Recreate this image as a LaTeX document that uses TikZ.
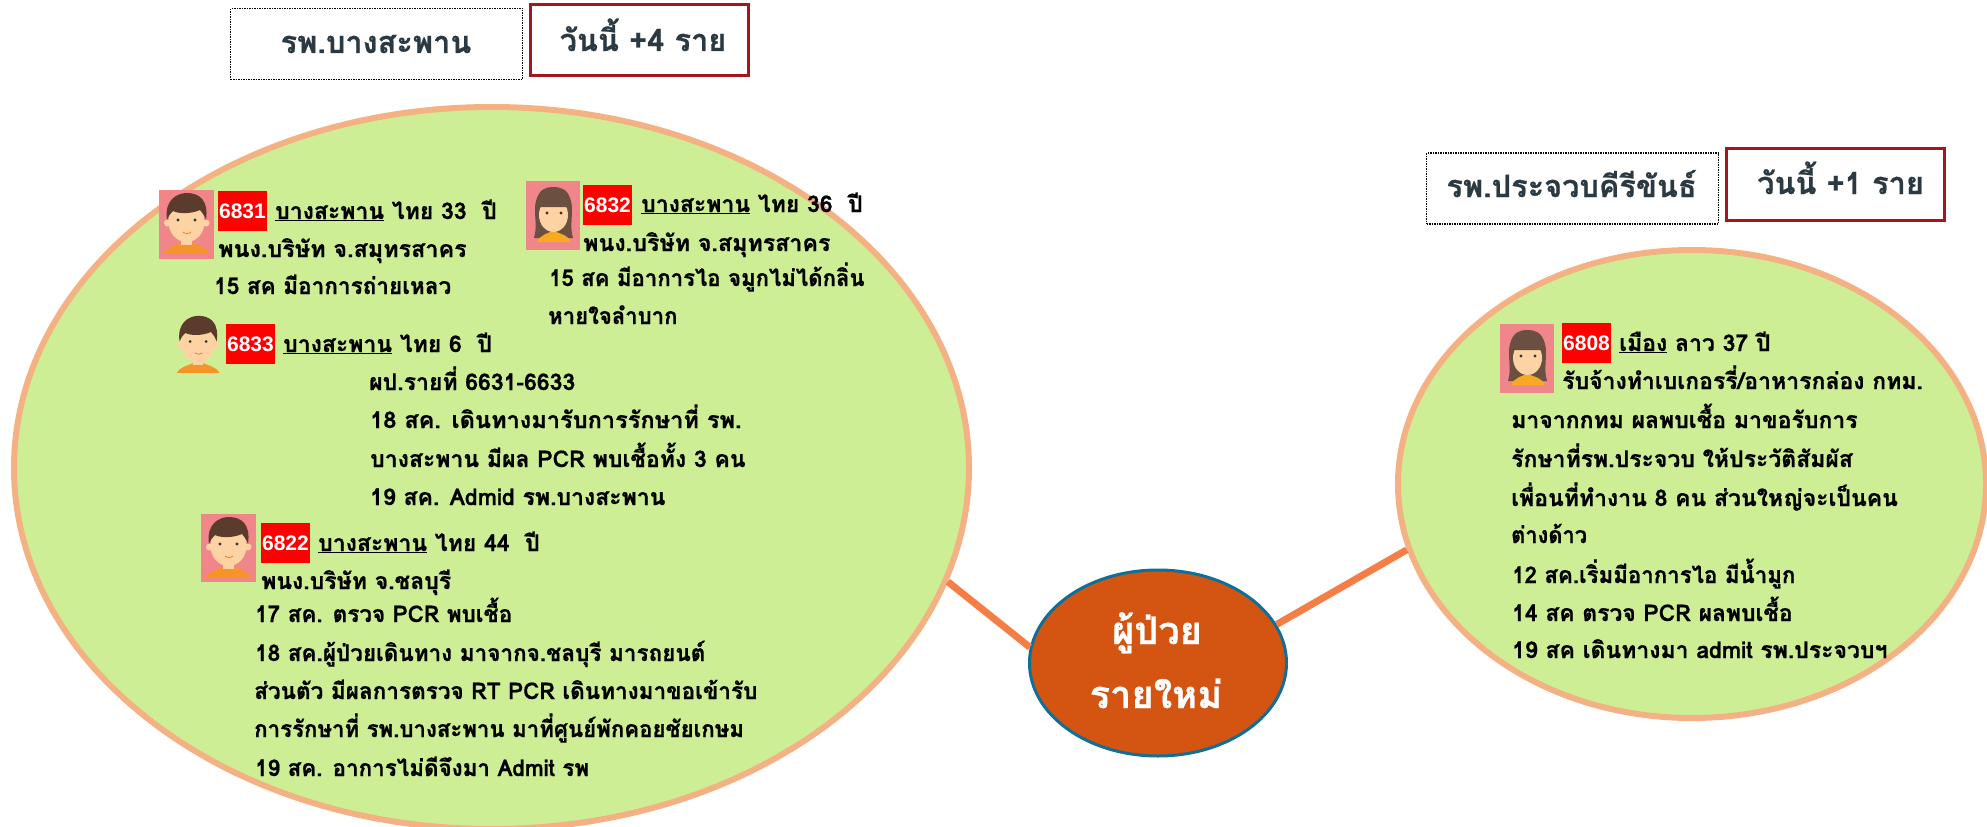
\documentclass[tikz,border=0pt]{standalone}
\usepackage{fontspec}
\usetikzlibrary{shapes.geometric}
\newfontfamily\thaifont[Script=Thai,BoldFeatures={FakeBold=0.7}]{Loma}
\setsansfont{Liberation Sans}
\definecolor{leafGreen}{HTML}{CEEE96}
\definecolor{peachLine}{HTML}{F4B183}
\definecolor{linkOrange}{HTML}{F47E45}
\definecolor{hubOrange}{HTML}{D35511}
\definecolor{hubBlue}{HTML}{0F6F97}
\definecolor{slateText}{HTML}{2B3A42}
\definecolor{boxRed}{HTML}{A5151C}
\definecolor{faceBack}{HTML}{F0868A}
\definecolor{hairBrown}{HTML}{5A3B2C}
\definecolor{skinTone}{HTML}{FDD3A4}
\definecolor{shirtOrange}{HTML}{F6942A}

\begin{document}
\begin{tikzpicture}
[x=1pt,y=-1pt,%
  leafDecorate/.style={shape=ellipse,inner sep=0pt,draw=peachLine,fill=leafGreen,line width=6pt},%
  hubDecorate/.style={shape=ellipse,inner sep=0pt,draw=hubBlue,fill=hubOrange,line width=3pt,minimum width=257pt,minimum height=186pt},%
  hubText/.style={anchor=base,inner sep=0pt,text=white,font=\thaifont\bfseries\fontsize{38}{38}\selectfont},%
  lineDecorate/.style={-,line width=7pt,linkOrange},%
  lineText/.style={anchor=base west,inner sep=0pt,text=black,font=\thaifont\bfseries\fontsize{23}{23}\selectfont},%
  squeezeText/.style={xscale=#1,transform shape},%
  badgeDecorate/.style={shape=rectangle,inner sep=0pt,fill=red,text=white,minimum width=49pt,minimum height=40pt,font=\sffamily\bfseries\fontsize{21}{21}\selectfont},%
  siteBox/.style={shape=rectangle,inner sep=0pt,draw=black,densely dotted,line width=1.5pt,minimum width=292pt,minimum height=71pt},%
  countBox/.style={shape=rectangle,inner sep=0pt,draw=boxRed,line width=3pt,minimum width=218pt,minimum height=71pt},%
  boxText/.style={anchor=base,inner sep=0pt,text=slateText,font=\thaifont\bfseries\fontsize{30.7}{30.7}\selectfont},%
  faceBackDecorate/.style={fill=faceBack},%
  boyFace/.pic={
    \fill[shirtOrange] (5,63) .. controls (8,57) and (17,55) .. (22,53) -- (33,53) .. controls (38,55) and (47,57) .. (50,63) -- cycle;
    \fill[skinTone] (22,44) rectangle (33,55);
    \fill[skinTone] (8.5,33) circle (3.5);
    \fill[skinTone] (47,33) circle (3.5);
    \fill[skinTone] (27.5,32) ellipse (18 and 20);
    \fill[hairBrown] (8,30) .. controls (5,10) and (18,3) .. (28,3) .. controls (40,3) and (50,10) .. (47,30) .. controls (46,26) and (44,24) .. (41,20) .. controls (32,24) and (20,24) .. (14,21) .. controls (11,23) and (10,26) .. (8,30) -- cycle;
    \fill[black!80] (19,30) circle (1.6);
    \fill[black!80] (36,30) circle (1.6);
    \draw[orange!80!brown,line width=0.8pt] (24,42) .. controls (26,44) and (30,44) .. (32,42);
  },%
  girlFace/.pic={
    \fill[hairBrown!90!white] (8,57) .. controls (12,45) and (7,30) .. (10,20) .. controls (13,8) and (20,6) .. (27,6) .. controls (35,6) and (42,8) .. (45,20) .. controls (48,30) and (43,45) .. (47,57) -- cycle;
    \fill[shirtOrange!80!yellow] (11,61) .. controls (14,54) and (22,52) .. (27,50) .. controls (33,52) and (42,54) .. (45,61) -- cycle;
    \fill[skinTone] (27.5,34) ellipse (14.5 and 17);
    \fill[hairBrown!90!white] (13,26) .. controls (14,14) and (22,12) .. (27,12) .. controls (35,12) and (41,14) .. (42,26) -- cycle;
    \fill[orange!35] (18,40) circle (3.5);
    \fill[orange!35] (37,40) circle (3.5);
    \fill[black!80] (21,32) circle (1.6);
    \fill[black!80] (35,32) circle (1.6);
  }]
\useasboundingbox (0,0) rectangle (1987,826.5);
%% big ellipses and the middle one
\node (bangsaphan) at (491.5,468) [leafDecorate,minimum width=955pt,minimum height=722pt] {};
\node (prachuap) at (1692,484) [leafDecorate,minimum width=588pt,minimum height=468pt] {};
\node (hub) at (1158,663) [hubDecorate] {};
%% edges or lines
\path
(hub.173) edge[lineDecorate] (bangsaphan.-14)
(hub.18) edge[lineDecorate] (prachuap.193.5);
%% text of the middle ellipse
\node (hubTop) at (1157,644) [hubText] {ผู้ป่วย};
\node (hubLow) at (1156,708) [hubText] {รายใหม่};
%% boxes at the top
\node (siteA) at (376.5,44) [siteBox] {};
\node (countA) at (639.5,40.5) [countBox] {};
\node (siteAText) at (376,53) [boxText] {รพ.บางสะพาน};
\node (countAText) at (643,51) [boxText] {วันนี้ +4 ราย};
\node (siteB) at (1572.5,188.5) [siteBox] {};
\node (countB) at (1835.5,184.5) [countBox] {};
\node (siteBText) at (1571.5,197) [boxText] {รพ.ประจวบคีรีขันธ์};
\node (countBText) at (1840.5,194) [boxText] {วันนี้ +1 ราย};
%% faces
\fill[faceBackDecorate] (159,190) rectangle +(55,69);
\pic at (159,190) {boyFace};
\pic[scale=0.95] at (172,313) {boyFace};
\fill[faceBackDecorate] (526,181) rectangle +(54,69);
\pic at (526,181) {girlFace};
\fill[faceBackDecorate] (201,514) rectangle +(55,68);
\pic at (201,514) {boyFace};
\fill[faceBackDecorate] (1500,324) rectangle +(54,69);
\pic at (1500,324) {girlFace};
%% case 6831
\node (case6831) at (242.5,211) [badgeDecorate] {6831};
\node (a1) at (275,219) [lineText] {\underline{บางสะพาน} ไทย 33~~ปี};
\node (a2) at (218,257) [lineText,squeezeText=1.015] {พนง.บริษัท จ.สมุทรสาคร};
\node (a3) at (214,294) [lineText,squeezeText=0.98] {15 สค มีอาการถ่ายเหลว};
%% case 6832
\node (case6832) at (607.5,205) [badgeDecorate] {6832};
\node (b1) at (641,212) [lineText] {\underline{บางสะพาน} ไทย 36~~ปี};
\node (b2) at (583,251) [lineText,squeezeText=1.01] {พนง.บริษัท จ.สมุทรสาคร};
\node (b3) at (549,286) [lineText,squeezeText=0.962] {15 สค มีอาการไอ จมูกไม่ได้กลิ่น};
\node (b4) at (548,324) [lineText,squeezeText=0.96] {หายใจลำบาก};
%% case 6833
\node (case6833) at (250.5,344) [badgeDecorate] {6833};
\node (c1) at (283,352) [lineText] {\underline{บางสะพาน} ไทย 6~~ปี};
\node (c2) at (369,390) [lineText] {ผป.รายที่ 6631-6633};
\node (c3) at (370,428) [lineText,squeezeText=1.024] {18 สค. เดินทางมารับการรักษาที่ รพ.};
\node (c4) at (370,467) [lineText] {บางสะพาน มีผล PCR พบเชื้อทั้ง 3 คน};
\node (c5) at (370,505) [lineText] {19 สค. Admid รพ.บางสะพาน};
%% case 6822
\node (case6822) at (285.5,543) [badgeDecorate] {6822};
\node (d1) at (318,551) [lineText] {\underline{บางสะพาน} ไทย 44~~ปี};
\node (d2) at (261,589) [lineText] {พนง.บริษัท จ.ชลบุรี};
\node (d3) at (255,622) [lineText,squeezeText=0.976] {17 สค. ตรวจ PCR พบเชื้อ};
\node (d4) at (255,661) [lineText,squeezeText=0.978] {18 สค.ผู้ป่วยเดินทาง มาจากจ.ชลบุรี มารถยนต์};
\node (d5) at (254,699) [lineText,squeezeText=0.98] {ส่วนตัว มีผลการตรวจ RT PCR เดินทางมาขอเข้ารับ};
\node (d6) at (254,737) [lineText,squeezeText=0.966] {การรักษาที่ รพ.บางสะพาน มาที่ศูนย์พักคอยชัยเกษม};
\node (d7) at (255,776) [lineText,squeezeText=0.974] {19 สค. อาการไม่ดีจึงมา Admit รพ};
%% case 6808
\node (case6808) at (1586.5,343) [badgeDecorate] {6808};
\node (e1) at (1619,351) [lineText] {\underline{เมือง} ลาว 37 ปี};
\node (e2) at (1562,389) [lineText] {รับจ้างทำเบเกอรรี่/อาหารกล่อง กทม.};
\node (e3) at (1511,428) [lineText] {มาจากกทม ผลพบเชื้อ มาขอรับการ};
\node (e4) at (1511,467) [lineText] {รักษาที่รพ.ประจวบ ให้ประวัติสัมผัส};
\node (e5) at (1511,506) [lineText] {เพื่อนที่ทำงาน 8 คน ส่วนใหญ่จะเป็นคน};
\node (e6) at (1511,543) [lineText,squeezeText=0.95] {ต่างด้าว};
\node (e7) at (1512,583) [lineText,squeezeText=0.967] {12 สค.เริ่มมีอาการไอ มีน้ำมูก};
\node (e8) at (1512,621) [lineText,squeezeText=0.995] {14 สค ตรวจ PCR ผลพบเชื้อ};
\node (e9) at (1512,658) [lineText] {19 สค เดินทางมา admit รพ.ประจวบฯ};
\end{tikzpicture}
\end{document}
